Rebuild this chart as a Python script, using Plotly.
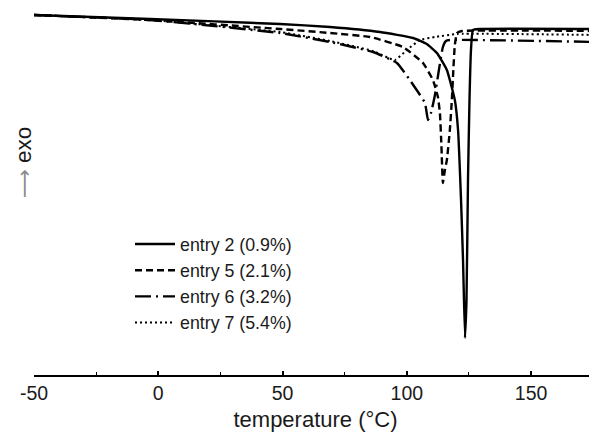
import plotly.graph_objects as go

# temperature (°C) and heat flow (a.u., exo up)
t_e2 = [-50, -3.3, 49.0, 69.1, 89.2, 102.5, 108.0, 112.1, 116.1, 119.3, 120.6, 121.8, 122.6, 123.4, 124.0, 124.6, 125.2, 125.8, 126.6, 129.4, 176.5]
h_e2 = [0.0, -0.4, -0.9, -1.2, -1.7, -2.3, -2.9, -3.8, -5.5, -8.5, -11.5, -18.5, -24.5, -32.3, -28.5, -16.5, -8.5, -3.5, -1.5, -1.4, -1.4]

t_e5 = [-50, -3.3, 49.0, 69.1, 85.2, 98.4, 106.5, 110.5, 112.5, 113.3, 113.9, 114.5, 115.3, 116.1, 117.3, 118.1, 118.7, 119.3, 120.2, 122.2, 176.5]
h_e5 = [0.0, -0.5, -1.4, -1.8, -2.2, -3.2, -4.8, -6.5, -8.2, -9.8, -13.0, -16.8, -15.5, -14.5, -11.5, -8.5, -5.5, -3.0, -1.8, -1.6, -1.6]

t_e6 = [-50, -3.3, 49.0, 69.1, 86.4, 96.0, 101.2, 104.5, 107.3, 108.5, 109.7, 111.3, 112.9, 114.5, 115.7, 117.3, 176.5]
h_e6 = [0.0, -0.5, -1.8, -2.7, -3.7, -4.8, -6.5, -7.7, -8.8, -10.5, -9.8, -8.0, -5.5, -3.2, -2.6, -2.5, -2.7]

t_e7 = [-50, -3.3, 49.0, 69.1, 86.4, 95.2, 100.0, 105.3, 111.3, 120.2, 176.5]
h_e7 = [0.0, -0.5, -1.7, -2.6, -3.6, -4.5, -3.5, -2.5, -2.2, -1.9, -2.0]

names = ["entry 2 (0.9%)", "entry 5 (2.1%)", "entry 6 (3.2%)", "entry 7 (5.4%)"]
x_ticks = [-50, 0, 50, 100, 150]
x_tick_labels = ["-50", "0", "50", "100", "150"]
x_minor = [-25, 25, 75, 125, 175]

series = [(t_e2, h_e2, "solid", 2.4),
          (t_e5, h_e5, "7px,4px", 2.4),
          (t_e6, h_e6, "16px,5px,2px,5px", 2.4),
          (t_e7, h_e7, "2px,3px", 2.0)]

fig = go.Figure()
for i, (t, h, dash, w) in enumerate(series):
    fig.add_trace(go.Scatter(x=t, y=h, mode="lines", name=names[i],
                             line=dict(color="black", width=w, dash=dash,
                                       shape="spline", smoothing=0.4)))

# the page body has an 8px margin: figure is 589x432 placed at (8, 8)
W, H = 589, 432
L, B = 26, 65
PW, PH = W - L, H - B

font = "Liberation Sans, Arial, sans-serif"
fig.update_layout(
    width=W, height=H,
    margin=dict(l=L, r=0, t=0, b=B, autoexpand=False),
    paper_bgcolor="white", plot_bgcolor="white",
    font=dict(family=font, size=18.5, color="#1a1a1a"),
    showlegend=True,
    legend=dict(x=(122 - L) / PW, y=1 - 218 / PH, xanchor="left", yanchor="top",
                bgcolor="rgba(0,0,0,0)", font=dict(size=17.8),
                itemwidth=40, tracegroupgap=0),
    xaxis=dict(range=[-50, 176.5], tickvals=x_ticks, ticktext=x_tick_labels,
               automargin=False,
               showline=True, linecolor="black", linewidth=1.5,
               ticks="inside", ticklen=4, tickwidth=1.5, tickcolor="black",
               minor=dict(tickvals=x_minor, ticks="inside",
                          ticklen=3, tickwidth=1.2, tickcolor="black"),
               showgrid=False, zeroline=False,
               title=dict(text="temperature (°C)", standoff=8),
               tickfont=dict(size=19.5)),
    yaxis=dict(range=[-36, 0.7], visible=False),
    annotations=[dict(text="<span style='font-family:DejaVu Sans;color:#888888;font-size:20px'>⟶</span> exo",
                      textangle=-90,
                      x=(15 - L) / PW, y=1 - 155 / PH, xref="paper", yref="paper",
                      xanchor="center", yanchor="middle", showarrow=False,
                      font=dict(size=22.5, color="#1a1a1a"))],
)

fig.write_html("out.html")
